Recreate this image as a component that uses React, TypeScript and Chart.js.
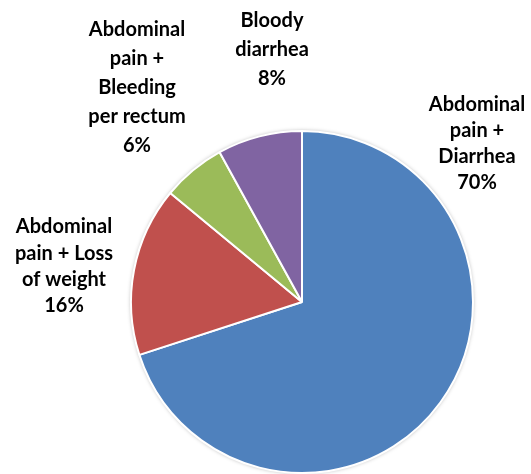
import React, { useEffect, useRef } from "react";
import { Chart, registerables } from "chart.js";

Chart.register(...registerables);

const categories = [
  "Abdominal pain + Diarrhea",
  "Abdominal pain + Loss of weight",
  "Abdominal pain + Bleeding per rectum",
  "Bloody diarrhea",
];
const values = [70, 16, 6, 8];
const labelLines = [
  ["Abdominal", "pain +", "Diarrhea"],
  ["Abdominal", "pain + Loss", "of weight"],
  ["Abdominal", "pain +", "Bleeding", "per rectum"],
  ["Bloody", "diarrhea"],
];
const colors = ["#4F81BD", "#C0504D", "#9BBB59", "#8064A2"];

// label block placement (center x, first line y, line spacing)
const labelPos = [
  { x: 477, y: 105, lh: 26 },
  { x: 64, y: 227, lh: 26.3 },
  { x: 137, y: 30, lh: 29 },
  { x: 272, y: 21, lh: 29 },
];

const W = 531;
const H = 474;

const shadowPlugin = {
  id: "pieShadow",
  beforeDatasetsDraw(chart: any) {
    const meta = chart.getDatasetMeta(0);
    const arc = meta.data[0];
    if (!arc) return;
    const { x, y, outerRadius } = arc.getProps(["x", "y", "outerRadius"], true);
    const ctx = chart.ctx;
    ctx.save();
    ctx.beginPath();
    ctx.arc(x, y, outerRadius, 0, Math.PI * 2);
    ctx.fillStyle = "#ffffff";
    ctx.shadowColor = "rgba(0,0,0,0.35)";
    ctx.shadowBlur = 4;
    ctx.shadowOffsetX = 0;
    ctx.shadowOffsetY = 0;
    ctx.fill();
    ctx.restore();
  },
};

const labelPlugin = {
  id: "pieLabels",
  afterDatasetsDraw(chart: any) {
    const ctx = chart.ctx;
    const data = chart.data.datasets[0].data as number[];
    const total = data.reduce((a, b) => a + b, 0);
    ctx.save();
    ctx.fillStyle = "#000000";
    ctx.font = "bold 20px Lato";
    ctx.textAlign = "center";
    ctx.textBaseline = "middle";
    labelLines.forEach((lines, i) => {
      const p = labelPos[i];
      const all = [...lines, Math.round((data[i] / total) * 100) + "%"];
      all.forEach((t, j) => {
        ctx.fillText(t, p.x, p.y + j * p.lh);
      });
    });
    ctx.restore();
  },
};

export default function App() {
  const ref = useRef<HTMLCanvasElement>(null);
  useEffect(() => {
    if (!ref.current) return;
    const chart = new Chart(ref.current, {
      type: "pie",
      data: {
        labels: categories,
        datasets: [
          {
            data: values,
            backgroundColor: colors,
            borderColor: "#ffffff",
            borderWidth: 2,
            hoverOffset: 0,
            offset: 0,
          },
        ],
      },
      options: {
        responsive: false,
        animation: false,
        layout: { padding: { top: 130, bottom: 0, left: 130, right: 57 } },
        plugins: {
          legend: { display: false },
          tooltip: { enabled: false },
        },
      },
      plugins: [shadowPlugin, labelPlugin],
    });
    return () => chart.destroy();
  }, []);
  return (
    <div style={{ position: "absolute", left: 0, top: 0, width: W, height: H, background: "#fff" }}>
      <canvas ref={ref} width={W} height={H} style={{ width: W, height: H }} />
    </div>
  );
}
